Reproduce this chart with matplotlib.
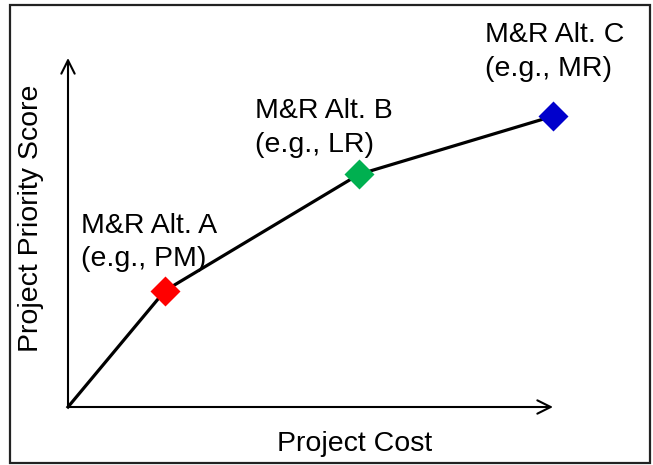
"""Cost vs. priority score sketch for three M&R alternatives."""

import matplotlib
matplotlib.use('Agg')
import matplotlib.pyplot as plt
import matplotlib.patches

# data
alt_names = ['M&R Alt. A', 'M&R Alt. B', 'M&R Alt. C']
alt_examples = ['(e.g., PM)', '(e.g., LR)', '(e.g., MR)']
cost = [1, 3, 5]
score = [2, 4, 5]
alt_colors = ['#FF0000', '#00B050', '#0000CC']
x_max = 5
y_max = 6

W, H = 653, 465
FS = 20.5
plt.rcParams['font.family'] = ['Liberation Sans', 'DejaVu Sans']

fig = plt.figure(figsize=(W / 100.0, H / 100.0), dpi=100)
# axes placed so the origin sits at pixel (68, 407)
ax = fig.add_axes([68.0 / W, (H - 407.0) / H, 485.0 / W, 349.0 / H])
ax.set_xlim(0, x_max)
ax.set_ylim(0, y_max)
ax.axis('off')

# arrow axes
arrow = dict(arrowstyle='->', color='black', lw=1.5, mutation_scale=24,
             shrinkA=0, shrinkB=0)
ax.annotate('', xy=(x_max, 0), xytext=(0, 0), arrowprops=arrow, annotation_clip=False)
ax.annotate('', xy=(0, y_max), xytext=(0, 0), arrowprops=arrow, annotation_clip=False)

# curve from origin through the alternatives
ax.plot([0] + cost, [0] + score, color='black', lw=2.3, clip_on=False, zorder=2)
for x, y, c in zip(cost, score, alt_colors):
    ax.plot(x, y, marker='D', ms=15, color=c, mec='none', clip_on=False, zorder=3)

# labels, offsets in pixels from each marker (left, top)
offsets = [(-84, 78), (-104, 76), (-68, 94)]
for name, ex, x, y, off in zip(alt_names, alt_examples, cost, score, offsets):
    ax.annotate(name + '\n' + ex, xy=(x, y), xytext=off, textcoords='offset pixels',
                ha='left', va='top', fontsize=FS, linespacing=1.38,
                annotation_clip=False)

fig.text(355.0 / W, 1 - 444.0 / H, 'Project Cost', ha='center', va='center', fontsize=FS)
fig.text(31.0 / W, 1 - 218.0 / H, 'Project Priority Score', ha='center', va='center',
         rotation=90, fontsize=FS)

# border around the whole picture
frame = matplotlib.patches.Rectangle((10.0 / W, 2.0 / H), 640.0 / W, 458.0 / H,
                                     transform=fig.transFigure, fill=False,
                                     edgecolor='#222222', lw=1.6)
fig.patches.append(frame)

fig.savefig('out.png', dpi=100)
